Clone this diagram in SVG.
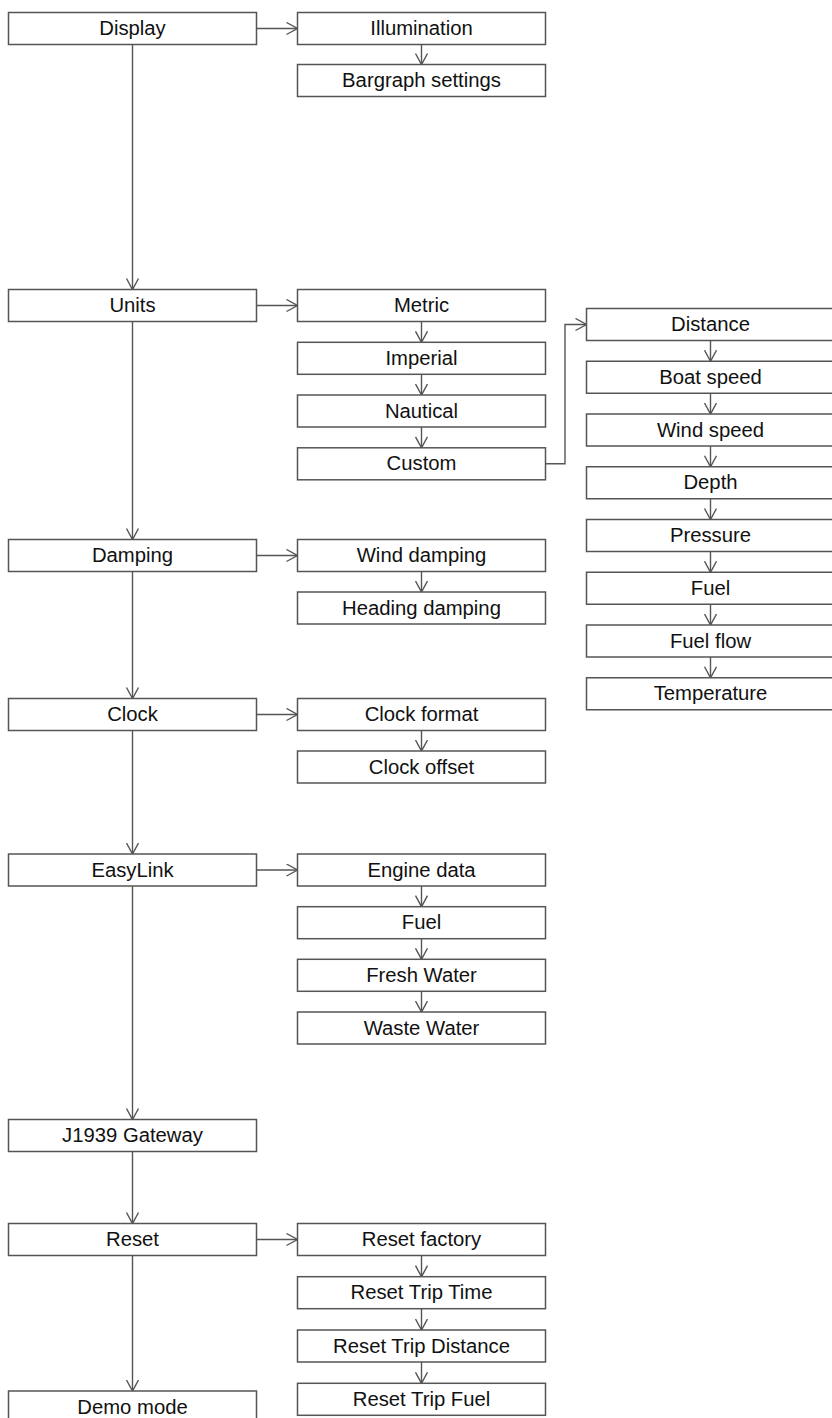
<svg xmlns="http://www.w3.org/2000/svg" width="832" height="1418" viewBox="0 0 832 1418">
<style>
.b{fill:#fff;stroke:#555;stroke-width:1.5}
.t{font-family:"Liberation Sans",Arial,sans-serif;font-size:19.5px;fill:#111;text-anchor:middle}
.c{fill:none;stroke:#555;stroke-width:1.4;marker-end:url(#a)}
</style>
<defs>
<marker id="a" markerUnits="userSpaceOnUse" markerWidth="14" markerHeight="14" viewBox="0 0 14 14" refX="11.5" refY="6.5" orient="auto">
<path d="M0.5,0.5 L11.5,6.5 L0.5,12.5" fill="none" stroke="#555" stroke-width="1.4"/>
</marker>
</defs>
<rect width="832" height="1418" fill="#fff"/>
<g id="connectors">
<path class="c" d="M132.5,44.5 V289.5"/>
<path class="c" d="M132.5,321.5 V539.5"/>
<path class="c" d="M132.5,571.5 V698.5"/>
<path class="c" d="M132.5,730.5 V854"/>
<path class="c" d="M132.5,886 V1119.5"/>
<path class="c" d="M132.5,1151.5 V1223.5"/>
<path class="c" d="M132.5,1255.5 V1391"/>
<path class="c" d="M256.5,28.5 H297.5"/>
<path class="c" d="M256.5,305.5 H297.5"/>
<path class="c" d="M256.5,555.5 H297.5"/>
<path class="c" d="M256.5,714.5 H297.5"/>
<path class="c" d="M256.5,870 H297.5"/>
<path class="c" d="M256.5,1239.5 H297.5"/>
<path class="c" d="M421.5,44.5 V64.5"/>
<path class="c" d="M421.5,321.5 V342.3"/>
<path class="c" d="M421.5,374.3 V395"/>
<path class="c" d="M421.5,427 V447.8"/>
<path class="c" d="M545.5,463.8 H565 V324.5 H586.5"/>
<path class="c" d="M421.5,571.5 V592"/>
<path class="c" d="M421.5,730.5 V751"/>
<path class="c" d="M421.5,886 V906.7"/>
<path class="c" d="M421.5,938.7 V959.3"/>
<path class="c" d="M421.5,991.3 V1012"/>
<path class="c" d="M421.5,1255.5 V1276.7"/>
<path class="c" d="M421.5,1308.7 V1330"/>
<path class="c" d="M421.5,1362 V1383.3"/>
<path class="c" d="M710.5,340.5 V361.25"/>
<path class="c" d="M710.5,393.25 V414"/>
<path class="c" d="M710.5,446 V466.75"/>
<path class="c" d="M710.5,498.75 V519.5"/>
<path class="c" d="M710.5,551.5 V572.25"/>
<path class="c" d="M710.5,604.25 V625"/>
<path class="c" d="M710.5,657 V677.75"/>
</g>
<g id="display"><rect class="b" x="8.5" y="12.5" width="248" height="32"/><text class="t" transform="translate(132.5 35) scale(1.04 1)">Display</text></g>
<g id="units"><rect class="b" x="8.5" y="289.5" width="248" height="32"/><text class="t" transform="translate(132.5 312) scale(1.04 1)">Units</text></g>
<g id="damping"><rect class="b" x="8.5" y="539.5" width="248" height="32"/><text class="t" transform="translate(132.5 562) scale(1.04 1)">Damping</text></g>
<g id="clock"><rect class="b" x="8.5" y="698.5" width="248" height="32"/><text class="t" transform="translate(132.5 721) scale(1.04 1)">Clock</text></g>
<g id="easylink"><rect class="b" x="8.5" y="854" width="248" height="32"/><text class="t" transform="translate(132.5 876.5) scale(1.04 1)">EasyLink</text></g>
<g id="j1939"><rect class="b" x="8.5" y="1119.5" width="248" height="32"/><text class="t" transform="translate(132.5 1142) scale(1.04 1)">J1939 Gateway</text></g>
<g id="reset"><rect class="b" x="8.5" y="1223.5" width="248" height="32"/><text class="t" transform="translate(132.5 1246) scale(1.04 1)">Reset</text></g>
<g id="demo"><rect class="b" x="8.5" y="1391" width="248" height="32"/><text class="t" transform="translate(132.5 1413.5) scale(1.04 1)">Demo mode</text></g>
<g id="illumination"><rect class="b" x="297.5" y="12.5" width="248" height="32"/><text class="t" transform="translate(421.5 35) scale(1.04 1)">Illumination</text></g>
<g id="bargraph"><rect class="b" x="297.5" y="64.5" width="248" height="32"/><text class="t" transform="translate(421.5 87) scale(1.04 1)">Bargraph settings</text></g>
<g id="metric"><rect class="b" x="297.5" y="289.5" width="248" height="32"/><text class="t" transform="translate(421.5 312) scale(1.04 1)">Metric</text></g>
<g id="imperial"><rect class="b" x="297.5" y="342.3" width="248" height="32"/><text class="t" transform="translate(421.5 364.8) scale(1.04 1)">Imperial</text></g>
<g id="nautical"><rect class="b" x="297.5" y="395" width="248" height="32"/><text class="t" transform="translate(421.5 417.5) scale(1.04 1)">Nautical</text></g>
<g id="custom"><rect class="b" x="297.5" y="447.8" width="248" height="32"/><text class="t" transform="translate(421.5 470.3) scale(1.04 1)">Custom</text></g>
<g id="wind-damping"><rect class="b" x="297.5" y="539.5" width="248" height="32"/><text class="t" transform="translate(421.5 562) scale(1.04 1)">Wind damping</text></g>
<g id="heading-damping"><rect class="b" x="297.5" y="592" width="248" height="32"/><text class="t" transform="translate(421.5 614.5) scale(1.04 1)">Heading damping</text></g>
<g id="clock-format"><rect class="b" x="297.5" y="698.5" width="248" height="32"/><text class="t" transform="translate(421.5 721) scale(1.04 1)">Clock format</text></g>
<g id="clock-offset"><rect class="b" x="297.5" y="751" width="248" height="32"/><text class="t" transform="translate(421.5 773.5) scale(1.04 1)">Clock offset</text></g>
<g id="engine-data"><rect class="b" x="297.5" y="854" width="248" height="32"/><text class="t" transform="translate(421.5 876.5) scale(1.04 1)">Engine data</text></g>
<g id="el-fuel"><rect class="b" x="297.5" y="906.7" width="248" height="32"/><text class="t" transform="translate(421.5 929.2) scale(1.04 1)">Fuel</text></g>
<g id="fresh-water"><rect class="b" x="297.5" y="959.3" width="248" height="32"/><text class="t" transform="translate(421.5 981.8) scale(1.04 1)">Fresh Water</text></g>
<g id="waste-water"><rect class="b" x="297.5" y="1012" width="248" height="32"/><text class="t" transform="translate(421.5 1034.5) scale(1.04 1)">Waste Water</text></g>
<g id="reset-factory"><rect class="b" x="297.5" y="1223.5" width="248" height="32"/><text class="t" transform="translate(421.5 1246) scale(1.04 1)">Reset factory</text></g>
<g id="reset-trip-time"><rect class="b" x="297.5" y="1276.7" width="248" height="32"/><text class="t" transform="translate(421.5 1299.2) scale(1.04 1)">Reset Trip Time</text></g>
<g id="reset-trip-distance"><rect class="b" x="297.5" y="1330" width="248" height="32"/><text class="t" transform="translate(421.5 1352.5) scale(1.04 1)">Reset Trip Distance</text></g>
<g id="reset-trip-fuel"><rect class="b" x="297.5" y="1383.3" width="248" height="32"/><text class="t" transform="translate(421.5 1405.8) scale(1.04 1)">Reset Trip Fuel</text></g>
<g id="distance"><rect class="b" x="586.5" y="308.5" width="248" height="32"/><text class="t" transform="translate(710.5 331) scale(1.04 1)">Distance</text></g>
<g id="boat-speed"><rect class="b" x="586.5" y="361.25" width="248" height="32"/><text class="t" transform="translate(710.5 383.75) scale(1.04 1)">Boat speed</text></g>
<g id="wind-speed"><rect class="b" x="586.5" y="414" width="248" height="32"/><text class="t" transform="translate(710.5 436.5) scale(1.04 1)">Wind speed</text></g>
<g id="depth"><rect class="b" x="586.5" y="466.75" width="248" height="32"/><text class="t" transform="translate(710.5 489.25) scale(1.04 1)">Depth</text></g>
<g id="pressure"><rect class="b" x="586.5" y="519.5" width="248" height="32"/><text class="t" transform="translate(710.5 542) scale(1.04 1)">Pressure</text></g>
<g id="cu-fuel"><rect class="b" x="586.5" y="572.25" width="248" height="32"/><text class="t" transform="translate(710.5 594.75) scale(1.04 1)">Fuel</text></g>
<g id="fuel-flow"><rect class="b" x="586.5" y="625" width="248" height="32"/><text class="t" transform="translate(710.5 647.5) scale(1.04 1)">Fuel flow</text></g>
<g id="temperature"><rect class="b" x="586.5" y="677.75" width="248" height="32"/><text class="t" transform="translate(710.5 700.25) scale(1.04 1)">Temperature</text></g>
</svg>
